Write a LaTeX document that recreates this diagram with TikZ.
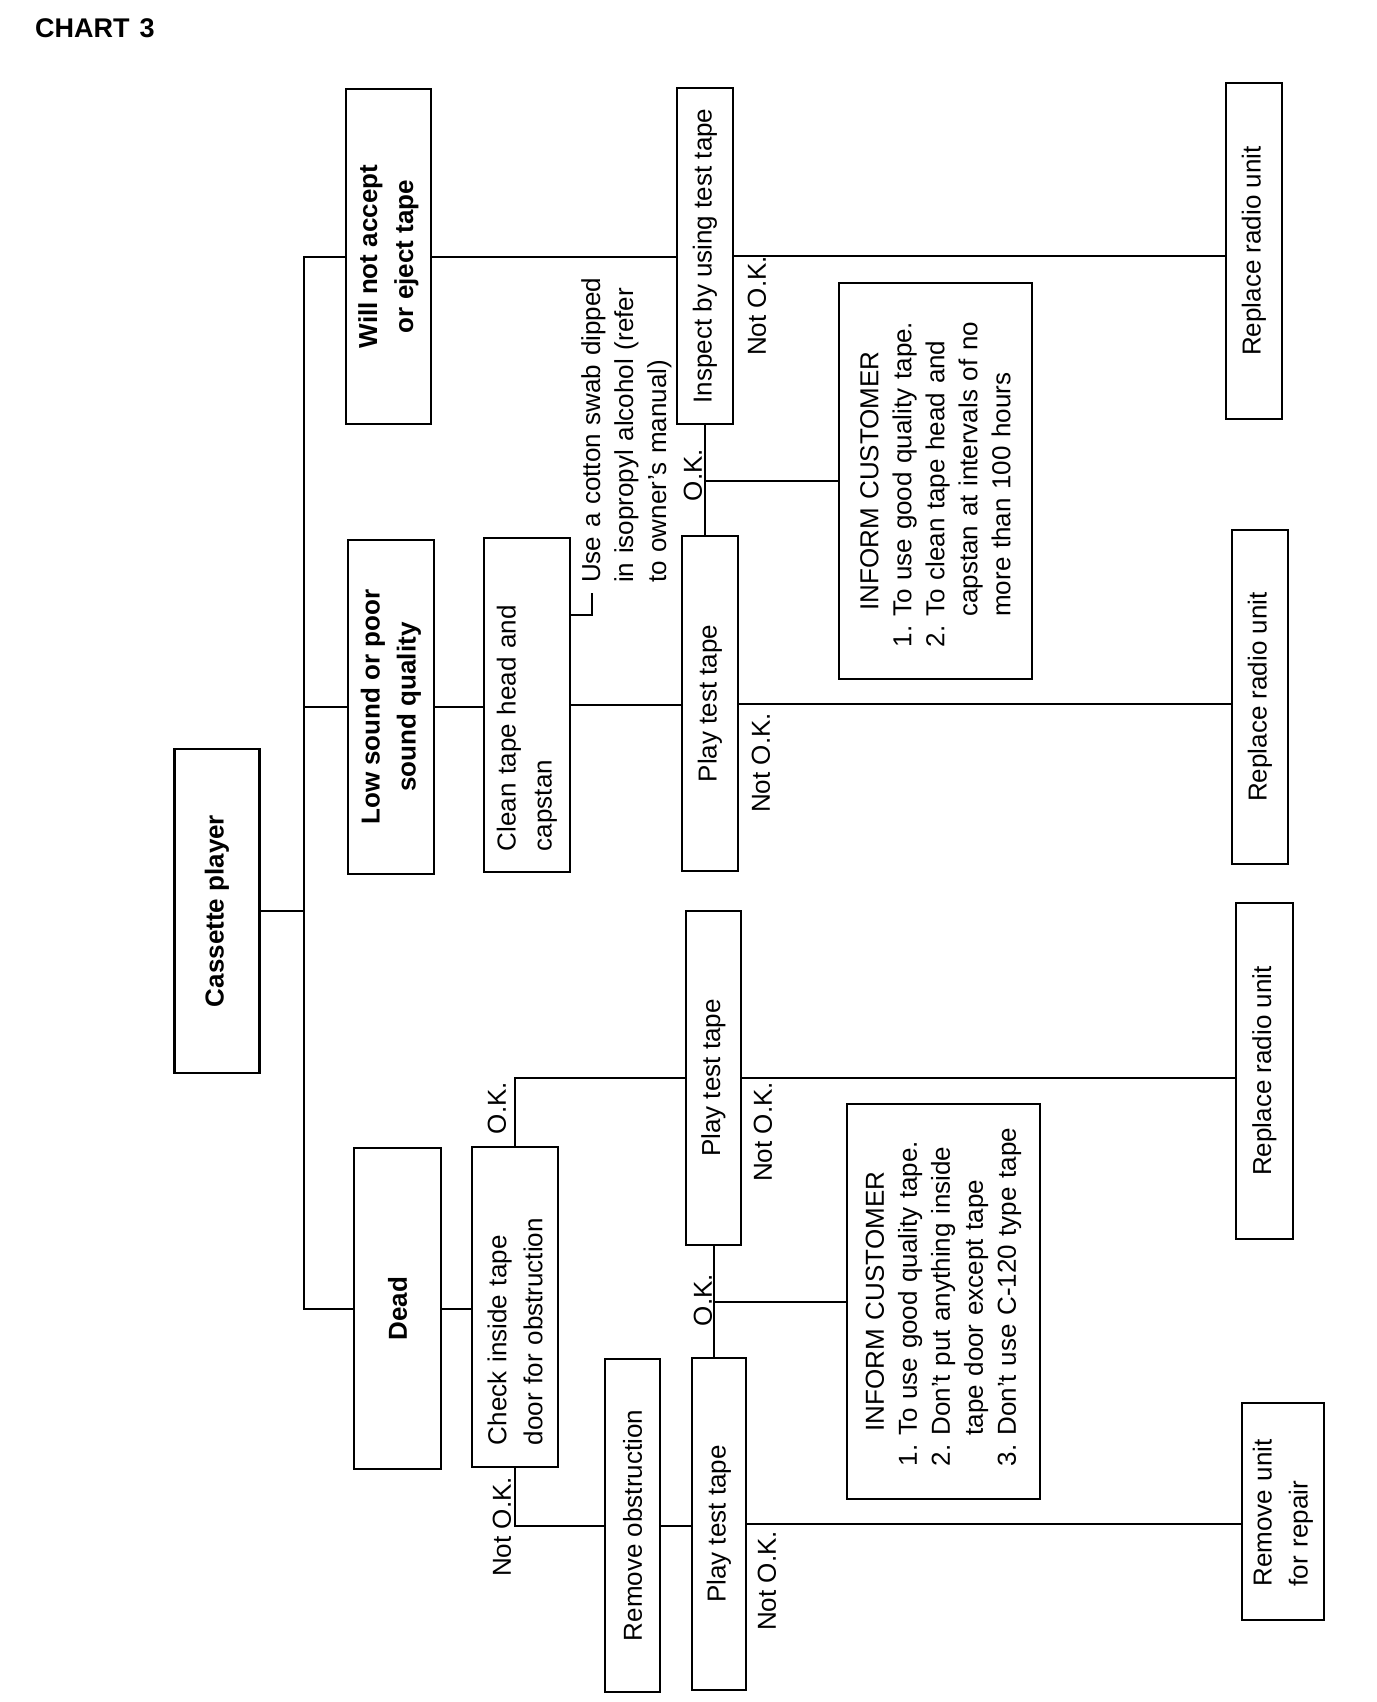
\documentclass[tikz,border=0pt]{standalone}
\usepackage{fontspec}
\setmainfont{Liberation Sans}
\newcommand\myfs{\fontsize{26}{36}\selectfont\frenchspacing}
\newcommand\myfsi{\fontsize{26}{33}\selectfont\frenchspacing}
\begin{document}
\begin{tikzpicture}[x=1pt,y=-1pt,
  bx/.style={draw, line width=2.6pt, rotate=90, inner sep=0pt, font=\myfs},
  bb/.style={bx, font=\myfs\bfseries, align=center},
  ln/.style={line width=2pt},
  lab/.style={rotate=90, inner sep=0pt, font=\myfs}]
\fill[white] (0,0) rectangle (1376,1702);
\useasboundingbox (0,0) rectangle (1376,1702);

\node[anchor=base west, inner sep=0pt, font=\fontsize{27}{30}\selectfont\bfseries] (title) at (35,38) {CHART\hspace{10pt}3};

% left column
\node[bb, minimum width=324pt, minimum height=85pt] (cassette) at (217,911) {Cassette player};
\node[bb, minimum width=335pt, minimum height=85pt] (willnot) at (388.5,256.5) {Will not accept\\or eject tape};
\node[bb, minimum width=334pt, minimum height=86pt] (lowsound) at (391,707) {Low sound or poor\\sound quality};
\node[bb, minimum width=321pt, minimum height=87pt] (dead) at (397.5,1308.5) {Dead};

% second column
\node[bx, minimum width=334pt, minimum height=86pt, text width=292pt, align=left] (clean) at (527,705) {Clean tape head and\\capstan};
\node[bx, minimum width=320pt, minimum height=86pt, text width=276pt, align=left] (check) at (515,1307) {Check inside tape\\door for obstruction};
\node[bx, minimum width=333pt, minimum height=55pt, align=center] (removeobs) at (632.5,1525.5) {Remove obstruction};

% third column
\node[bx, minimum width=336pt, minimum height=56pt, align=center] (inspect) at (705,256) {Inspect by using test tape};
\node[bx, minimum width=335pt, minimum height=56pt, align=center] (playA) at (710,703.5) {Play test tape};
\node[bx, minimum width=334pt, minimum height=55pt, align=center] (playB) at (713.5,1078) {Play test tape};
\node[bx, minimum width=332pt, minimum height=54pt, align=center] (playC) at (719,1524) {Play test tape};

% inform boxes
\node[bx, minimum width=396pt, minimum height=193pt, text width=332pt, align=left, font=\myfsi] (inform1) at (935.5,481)
  {{\centering INFORM CUSTOMER\par}\mbox{1. To use good quality tape.}\\\mbox{2. To clean tape head and}\\\mbox{\hphantom{2. }capstan at intervals of no}\\\mbox{\hphantom{2. }more than 100 hours}};
\node[bx, minimum width=395pt, minimum height=193pt, text width=329pt, align=left, font=\myfsi] (inform2) at (943.5,1301.5)
  {{\centering INFORM CUSTOMER\par}\mbox{1. To use good quality tape.}\\\mbox{2. Don't put anything inside}\\\mbox{\hphantom{2. }tape door except tape}\\\mbox{3. Don't use C-120 type tape}};

% right column
\node[bx, minimum width=336pt, minimum height=56pt, align=center] (replace1) at (1254,251) {Replace radio unit};
\node[bx, minimum width=334pt, minimum height=56pt, align=center] (replace2) at (1260,697) {Replace radio unit};
\node[bx, minimum width=336pt, minimum height=57pt, align=center] (replace3) at (1264.5,1071) {Replace radio unit};
\node[bx, minimum width=217pt, minimum height=82pt, text width=150pt, align=left] (repair) at (1283,1511.5) {Remove unit\\for repair};

% annotation
\node[lab, anchor=north west, text width=330pt, align=left, font=\fontsize{26}{33}\selectfont] (swab) at (581,583)
  {Use a cotton swab dipped\\in isopropyl alcohol (refer\\to owner's manual)};

% labels
\node[lab] (nok1) at (757,306) {Not O.K.};
\node[lab] (ok1) at (693,475) {O.K.};
\node[lab] (nok2) at (761,763) {Not O.K.};
\node[lab] (ok2) at (497,1108) {O.K.};
\node[lab] (nok3) at (763,1132) {Not O.K.};
\node[lab] (nok4) at (502,1527) {Not O.K.};
\node[lab] (ok3) at (703,1300) {O.K.};
\node[lab] (nok5) at (767,1581) {Not O.K.};

% connectors
\coordinate (tk) at (304,0);
\draw[ln] (cassette.south) -- (cassette.south -| tk);
\draw[ln] (willnot.north) -| (tk |- dead.north) -- (dead.north);
\draw[ln] (lowsound.north) -- (lowsound.north -| tk);

\draw[ln] (willnot.south) -- (willnot.south -| inspect.north);
\draw[ln] (inspect.south) -- (inspect.south -| replace1.north);
\draw[ln] (inspect.west) -- (inspect.west |- playA.east);
\draw[ln] (inform1.north) -- (inform1.north -| inspect.west);

\draw[ln] (lowsound.south) -- (lowsound.south -| clean.north);
\draw[ln] (clean.south) -- (clean.south -| playA.north);
\draw[ln] (playA.south) -- (playA.south -| replace2.north);
\coordinate (brk) at (592,615);
\draw[ln] (clean.south |- brk) -- (brk) -- ++(0,-22);

\draw[ln] (dead.south) -- (dead.south -| check.north);
\draw[ln] (check.east) |- (playB.north);
\draw[ln] (playB.south) -- (playB.south -| replace3.north);
\draw[ln] (playB.west) -- (playB.west |- playC.east);
\draw[ln] (inform2.north) -- (inform2.north -| playB.west);
\draw[ln] (check.west) |- (removeobs.north);
\draw[ln] (removeobs.south) -- (removeobs.south -| playC.north);
\draw[ln] (playC.south) -- (playC.south -| repair.north);
\end{tikzpicture}
\end{document}
